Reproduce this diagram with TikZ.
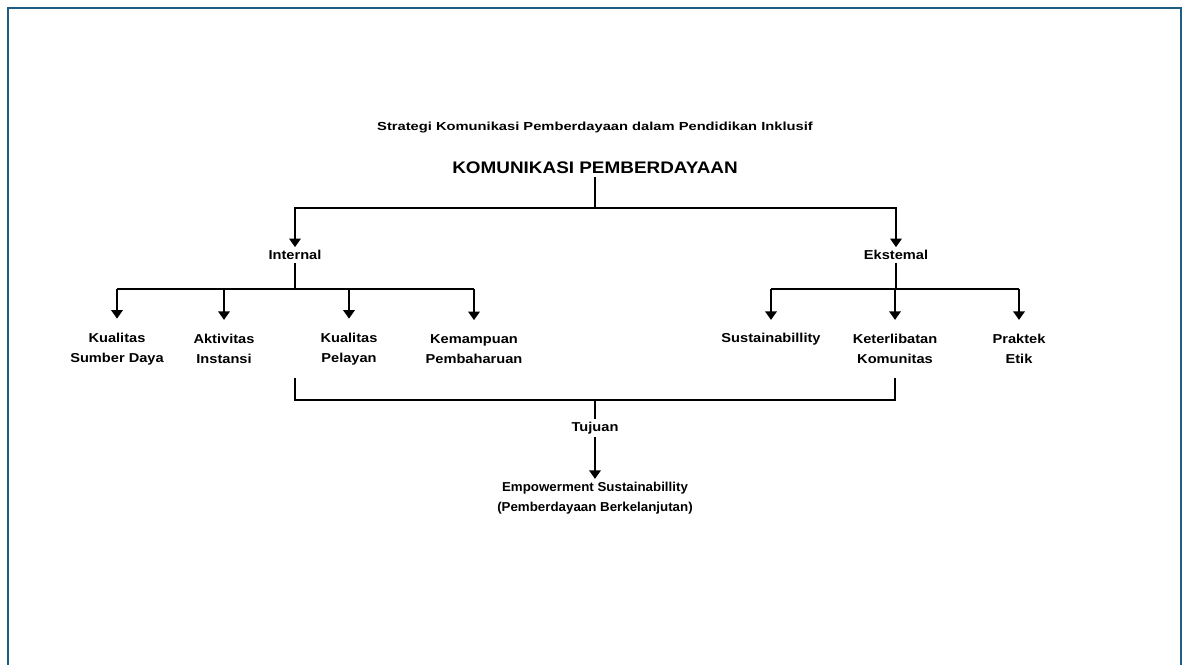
\documentclass[tikz,border=0pt]{standalone}
\usepackage{fontspec}
\setmainfont{Liberation Sans}
\newfontfamily\lblfont[FakeStretch=1.13]{Liberation Sans}
\newfontfamily\judulfont[FakeStretch=1.26]{Liberation Sans}
\newfontfamily\hasilfont[FakeStretch=1.03]{Liberation Sans}
\usetikzlibrary{arrows.meta}
\usetikzlibrary{positioning}
\definecolor{framecol}{RGB}{30,94,130}

\begin{document}
\begin{tikzpicture}[x=0.025cm,y=-0.025cm,
  lbl/.style={font=\lblfont\bfseries\fontsize{9.2}{14.2}\selectfont,align=center,inner sep=2pt},
  line/.style={black,line width=2.1pt},
  arr/.style={line,-{Triangle[width=8pt,length=6pt]}}]
\useasboundingbox (0,0) rectangle (1182,664);
\draw[framecol,line width=1.4pt] (8,680) -- (8,8) -- (1181,8) -- (1181,680);

\node[lbl,font=\judulfont\bfseries\fontsize{8.3}{10}\selectfont] (judul) at (595,128) {Strategi Komunikasi Pemberdayaan dalam Pendidikan Inklusif};
\node[lbl,font=\lblfont\bfseries\fontsize{11.9}{14}\selectfont] (kom) at (595,168) {KOMUNIKASI PEMBERDAYAAN};
\coordinate (j1) at (595,208);

\node[lbl] (int) at (295,255) {Internal};
\node[lbl] (eks) at (896,255) {Ekstemal};
\coordinate (j2) at (295,289);
\coordinate (j4) at (896,289);

\node[lbl] (sd) at (117,349) {Kualitas\\Sumber Daya};
\node[lbl] (ai) at (224,349) {Aktivitas\\Instansi};
\node[lbl] (kp) at (349,349) {Kualitas\\Pelayan};
\node[lbl] (kpb) at (474,349) {Kemampuan\\Pembaharuan};

\node[lbl] (sus) at (771,339) {Sustainabillity};
\node[lbl] (kk) at (895,349) {Keterlibatan\\Komunitas};
\node[lbl] (pe) at (1019,349) {Praktek\\Etik};

\coordinate (jl) at (295,378);
\coordinate (jr) at (895,378);
\coordinate (j3) at (595,400);
\node[lbl] (tuj) at (595,428) {Tujuan};
\node[lbl,font=\hasilfont\bfseries\fontsize{9.2}{14.2}\selectfont] (hasil) at (595,498) {Empowerment Sustainabillity\\(Pemberdayaan Berkelanjutan)};

\draw[line] (kom) -- (j1);
\draw[arr] (j1) -| (int);
\draw[arr] (j1) -| (eks);

\draw[line] (int) -- (j2);
\draw[line] (sd |- j2) -- (kpb |- j2);
\foreach \n in {sd,ai,kp,kpb}
  \draw[arr,shorten >=8pt] (\n |- j2) -- (\n);

\draw[line] (eks) -- (j4);
\draw[line] (sus |- j4) -- (pe |- j4);
\foreach \n in {sus,kk,pe}
  \draw[arr,shorten >=8pt] (\n |- j4) -- (\n.north |- kk.north);

\draw[line] (jl) |- (j3) -| (jr);
\draw[line] (j3) -- (tuj);
\draw[arr] (tuj) -- (hasil);
\end{tikzpicture}
\end{document}
